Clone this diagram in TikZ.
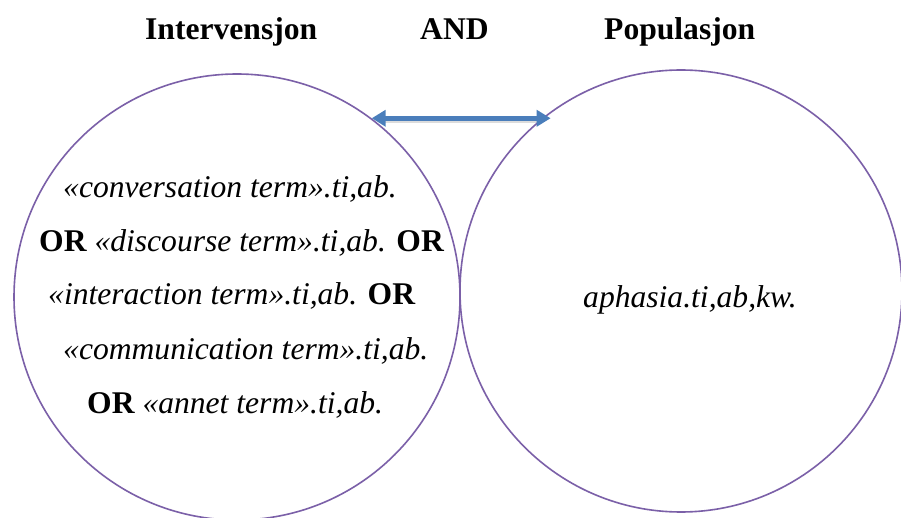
\documentclass[tikz,border=0pt]{standalone}
\usepackage{fontspec}
\setmainfont{Liberation Serif}[UprightFont=*,BoldFont=* Bold,ItalicFont=* Italic,BoldItalicFont=* Bold Italic]
\usetikzlibrary{arrows.meta}
\definecolor{ringcol}{HTML}{7B60A8}
\definecolor{arrowcol}{HTML}{4A7EBB}
\newcommand{\orword}{{\normalfont\bfseries OR}}
\begin{document}
\begin{tikzpicture}[x=1pt,y=1pt,
  ring/.style={circle,draw=ringcol,line width=1.6pt,inner sep=0pt},
  title/.style={anchor=base west,inner sep=0pt,font=\fontsize{31.6}{38}\selectfont\bfseries},
  term/.style={anchor=base west,inner sep=0pt,font=\fontsize{31.6}{38}\selectfont\itshape},
  link/.style={draw=arrowcol,line width=4.5pt,{Triangle[width=16pt,length=14pt]}-{Triangle[width=16pt,length=14pt]}},
  linkshadow/.style={draw=black!30,line width=4pt,opacity=0.45,shorten <=10pt,shorten >=10pt}]
\useasboundingbox (0,0) rectangle (901,517);
\clip (0,0) rectangle (901,517);
\fill[white] (0,0) rectangle (901,517);
\node[ring,minimum size=446pt] (L) at (237,220) {};
\node[ring,minimum size=442pt] (R) at (681,226) {};
\node[title] (t1) at (145,477) {Intervensjon};
\node[title] (t2) at (420,477) {AND};
\node[title] (t3) at (604,477) {Populasjon};
\node[term] (l1) at (63,319) {«conversation term».ti,ab.};
\node[term] (l2) at (39,265) {\orword{} «discourse term».ti,ab. \orword};
\node[term] (l3) at (48,212) {«interaction term».ti,ab. \orword};
\node[term] (l4) at (63,158) {«communication term».ti,ab.};
\node[term] (l5) at (87,104) {\orword{} «annet term».ti,ab.};
\node[term] (r1) at (583,210) {aphasia.ti,ab,kw.};
\coordinate (a) at (L.53.8);
\coordinate (b) at (a -| R.126.4);
\draw[linkshadow] ([yshift=-3pt]a) -- ([yshift=-3pt]b);
\draw[link] (a) -- (b);
\end{tikzpicture}
\end{document}
